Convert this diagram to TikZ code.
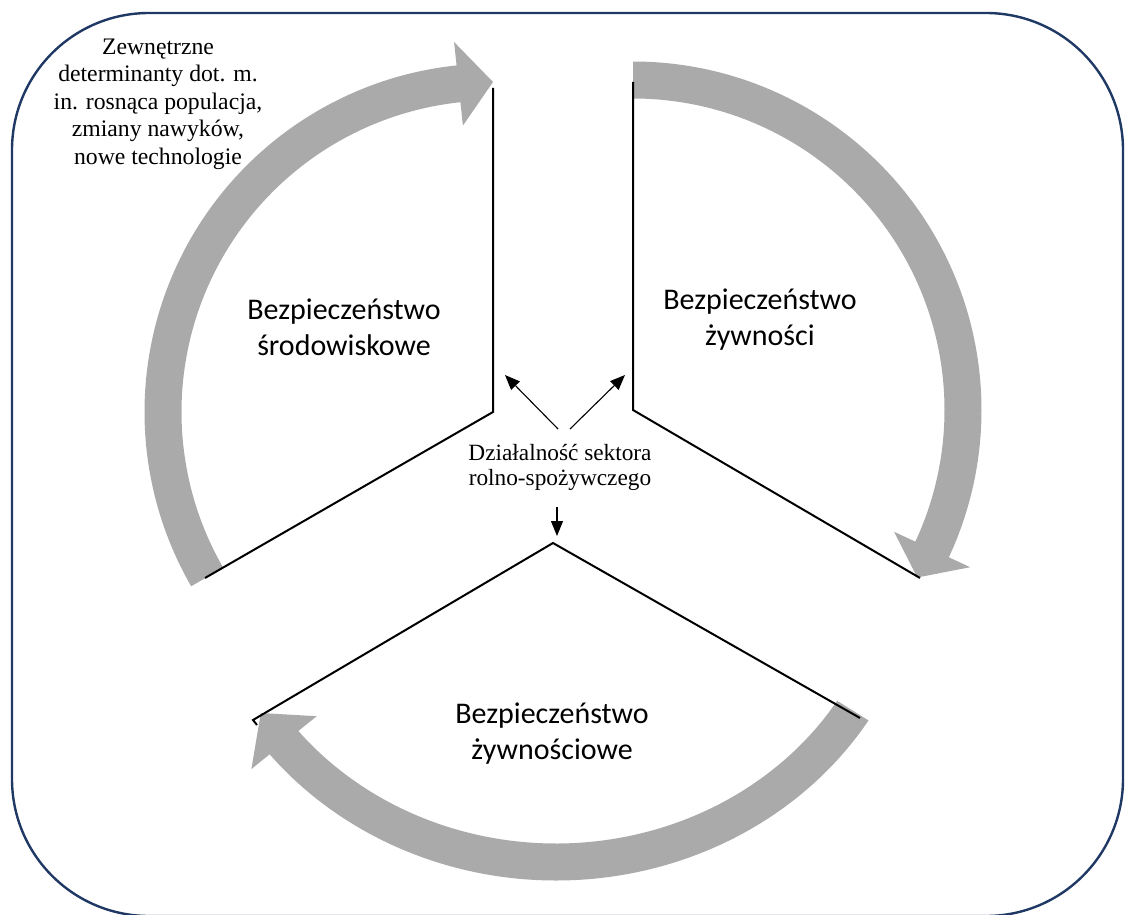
\documentclass[tikz,border=0pt]{standalone}
\usepackage{fontspec}
\setmainfont{Liberation Serif}
\newfontfamily\labelfont{Carlito}
\usetikzlibrary{calc,arrows.meta}

\definecolor{framenavy}{RGB}{31,56,100}
\definecolor{cyclegray}{RGB}{170,170,170}

\tikzset{
  frame/.style={draw=framenavy, line width=2.4pt, rounded corners=137pt},
  sectoredge/.style={draw=black, line width=2pt},
  pointer/.style={draw=black, line width=1.1pt, -{Triangle[length=15pt,width=12pt]}},
  sectorlabel/.style={font={\labelfont\fontsize{30}{36}\selectfont}, align=center, inner sep=0pt},
  note/.style={font={\fontsize{23.7}{27.5}\selectfont}, align=center, inner sep=0pt},
  activity/.style={font={\fontsize{23.3}{25}\selectfont}, align=center, inner sep=0pt},
  cyclefill/.style={fill=cyclegray},
}

% curved block arrow: #1 centre, #2 x radius, #3 y radius,
% #4 tail angle, #5 angle of the head base, #6 angle of the tip
\newcommand\cyclearrow[6]{%
  \fill[cyclefill]
    ($(#1)+(#4:{#2+18.5} and {#3+18.5})$)
    arc[start angle=#4, end angle=#5, x radius={#2+18.5}, y radius={#3+18.5}]
    -- ($(#1)+(#5:{#2+42} and {#3+42})$)
    -- ($(#1)+(#6:#2 and #3)$)
    -- ($(#1)+(#5:{#2-42} and {#3-42})$)
    -- ($(#1)+(#5:{#2-18.5} and {#3-18.5})$)
    arc[start angle=#5, end angle=#4, x radius={#2-18.5}, y radius={#3-18.5}]
    -- cycle;}

\begin{document}
\begin{tikzpicture}[x=1pt, y=1pt, yscale=-1]
  \useasboundingbox (0,0) rectangle (1125,915);

  % outer frame
  \draw[frame] (12,13) rectangle (1123,916);

  % centres of the three sectors
  \coordinate (cL) at (493,412);
  \coordinate (cR) at (633,410);
  \coordinate (cB) at (556,540);

  % grey cycle arrows
  \cyclearrow{cL}{330}{330}{150}{264}{270}
  \cyclearrow{cR}{330}{330}{-90}{25}{30.5}
  \cyclearrow{cB}{350}{322}{32}{141}{147.5}

  % sector edges
  \draw[sectoredge] (493,88) -- (493,412) -- (205,578);
  \draw[sectoredge] (633,82) -- (633,410) -- (920,578);
  \draw[sectoredge] (257,725) -- (253,720) -- (553,543) -- (860,718);

  % labels
  \node[note] (ext) at (158,104)
    {Zewnętrzne\\determinanty dot. m.\\in. rosnąca populacja,\\zmiany nawyków,\\nowe technologie};
  \node[sectorlabel] (env) at (344,327) {Bezpieczeństwo\\środowiskowe};
  \node[sectorlabel] (safety) at (760,320) {Bezpieczeństwo\\żywności};
  \node[sectorlabel] (security) at (552,734) {Bezpieczeństwo\\żywnościowe};
  \node[activity] (act) at (560,467) {Działalność sektora\\rolno-spożywczego};

  % pointers from the agri-food sector activity
  \coordinate (pLs) at (558,429);
  \coordinate (pLe) at (505,375);
  \coordinate (pRs) at (570,429);
  \coordinate (pRe) at (625,375);
  \coordinate (pDs) at (557,507);
  \coordinate (pDe) at (557,536);
  \draw[pointer] (pLs) -- (pLe);
  \draw[pointer] (pRs) -- (pRe);
  \draw[pointer] (pDs) -- (pDe);
\end{tikzpicture}
\end{document}
